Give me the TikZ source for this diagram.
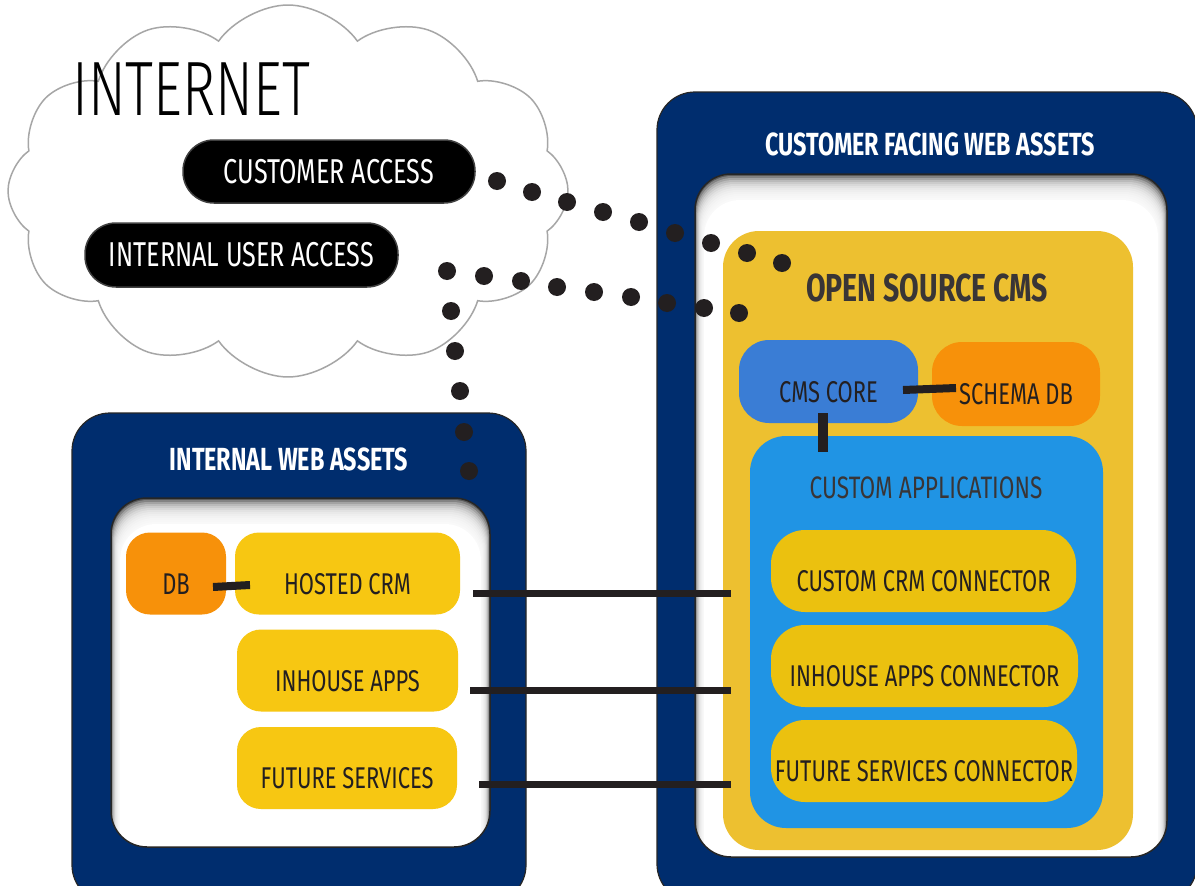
\documentclass[tikz,border=0pt]{standalone}
\usepackage{fontspec}
\setmainfont{Fira Sans}[FakeStretch=0.73]
\newfontfamily\lightfont{Fira Sans Light}[FakeStretch=0.73]
\usetikzlibrary{shapes.symbols}
\definecolor{navy}{RGB}{0,45,110}
\definecolor{cmsy}{RGB}{237,192,48}
\definecolor{orng}{RGB}{247,145,10}
\definecolor{coreb}{RGB}{58,125,213}
\definecolor{appb}{RGB}{32,148,228}
\definecolor{yl}{RGB}{247,199,18}
\definecolor{yc}{RGB}{235,193,15}
\definecolor{ink}{RGB}{35,31,32}
\newcommand{\myshadow}[4]{%
  \begin{scope}
    \clip[rounded corners=36] (#1,#2) rectangle (#3,#4);
    \fill[black!65] (#1,#2) rectangle (#3,#4);
    \foreach \k in {1,...,12}{\fill[white,opacity=0.26,rounded corners=36] ({#1+\k*0.7},{#2+\k*2}) rectangle ({#3-\k*0.7},{#4+40});}
    \fill[white,rounded corners=36] ({#1+9.1},{#2+26}) rectangle ({#3-9.1},{#4+40});
  \end{scope}
  \draw[line width=1.5pt, draw=black!85, rounded corners=36] (#1,#2) rectangle (#3,#4);}
\begin{document}
\begin{tikzpicture}[x=1pt,y=-1pt,
  every node/.style={inner sep=0pt},
  outerbox/.style={fill=navy, draw=black!85, line width=1.2pt, rounded corners=38},
  title/.style={font=\bfseries\fontsize{32}{36}\selectfont, text=white},
  item/.style={rounded corners=24, minimum height=82, text height=41, text depth=0, font=\fontsize{30}{36}\selectfont, text=ink},
  pill/.style={fill=black, draw=black!75, line width=1.5pt, rounded corners=31, text=white, font=\fontsize{34.5}{37}\selectfont},
  link/.style={draw=ink, line width=7pt},
  dotmark/.style={fill=ink}]
\clip (0,0) rectangle (1195,886);
\fill[white] (0,0) rectangle (1195,886);

% cloud
\node[cloud, cloud puffs=12, cloud puff arc=110, aspect=1.5, draw=black!35, line width=1.5pt, minimum width=560, minimum height=372] (net) at (288,191) {};
\node[anchor=base west, font=\lightfont\fontsize{77}{80}\selectfont, text=black] (inet) at (72,115) {INTERNET};
\node[pill, minimum width=292, minimum height=63] (ca) at (329,171.5) {CUSTOMER ACCESS};
\node[pill, minimum width=313, minimum height=64] (iua) at (241.5,255) {INTERNAL USER ACCESS};

% internal web assets
\node[outerbox, minimum width=454, minimum height=490] (iwa) at (299,658) {};
\node[title] (iwat) at (289,459) {INTERNAL WEB ASSETS};
\myshadow{111}{498}{490}{847}
\node[item, fill=orng, minimum width=100] (db) at (176,573.5) {DB};
\node[item, fill=yl, minimum width=225] (crm) at (347.5,573.5) {HOSTED CRM};
\node[item, fill=yl, minimum width=221] (inh) at (347.5,670.5) {INHOUSE APPS};
\node[item, fill=yl, minimum width=220] (fut) at (347,768) {FUTURE SERVICES};

% customer facing web assets
\node[outerbox, minimum width=540, minimum height=810] (cfa) at (927,497) {};
\node[title] (cfat) at (930,144) {CUSTOMER FACING WEB ASSETS};
\myshadow{695}{174}{1167}{857}
\node[fill=cmsy, rounded corners=36, minimum width=410, minimum height=619] (cms) at (928,540.5) {};
\node[font=\bfseries\fontsize{39}{42}\selectfont, text=ink!90] (cmst) at (927,288) {OPEN SOURCE CMS};
\node[item, fill=coreb, minimum width=179, minimum height=83, rounded corners=30] (core) at (828.5,381.5) {CMS CORE};
\node[item, fill=orng, minimum width=168, minimum height=84, rounded corners=30] (schema) at (1016,384) {SCHEMA DB};
\node[fill=appb, rounded corners=36, minimum width=353, minimum height=392] (apps) at (926.5,632) {};
\node[font=\fontsize{31}{34}\selectfont, text=ink!90] (appst) at (926,488) {CUSTOM APPLICATIONS};
\node[item, fill=yc, minimum width=305, rounded corners=34] (ccrm) at (923.5,571) {CUSTOM CRM CONNECTOR};
\node[item, fill=yc, minimum width=307, rounded corners=34] (cinh) at (924.5,666) {INHOUSE APPS CONNECTOR};
\node[item, fill=yc, minimum width=306, rounded corners=34] (cfut) at (924,761) {FUTURE SERVICES CONNECTOR};

% connectors
\coordinate (dba) at (213,587); \coordinate (dbb) at (250,585);
\draw[link, line width=8pt] (dba) -- (dbb);
\coordinate (csa) at (903,390); \coordinate (csb) at (956,388);
\draw[link, line width=8pt] (csa) -- (csb);
\coordinate (cva) at (823,413); \coordinate (cvb) at (823,452);
\draw[link, line width=10pt] (cva) -- (cvb);
\coordinate (l1a) at (473,593); \coordinate (l1b) at (731,593);
\coordinate (l2a) at (470,690); \coordinate (l2b) at (731,690);
\coordinate (l3a) at (479,784); \coordinate (l3b) at (731,784);
\draw[link] (l1a) -- (l1b);
\draw[link] (l2a) -- (l2b);
\draw[link] (l3a) -- (l3b);

% dotted connections
\foreach \p in {(497,181),(532,192),(567,202),(603,212),(639,222),(675,233),(711,243),(747,253),(782,263)}
  \fill[dotmark] \p circle (9pt);
\foreach \p in {(447,271),(484,276),(521,281),(557,287),(594,292),(631,297),(667,303),(704,308),(739,313)}
  \fill[dotmark] \p circle (9pt);
\foreach \p in {(451,311),(455,351),(460,391),(464,432),(469,471)}
  \fill[dotmark] \p circle (9pt);
\end{tikzpicture}
\end{document}
